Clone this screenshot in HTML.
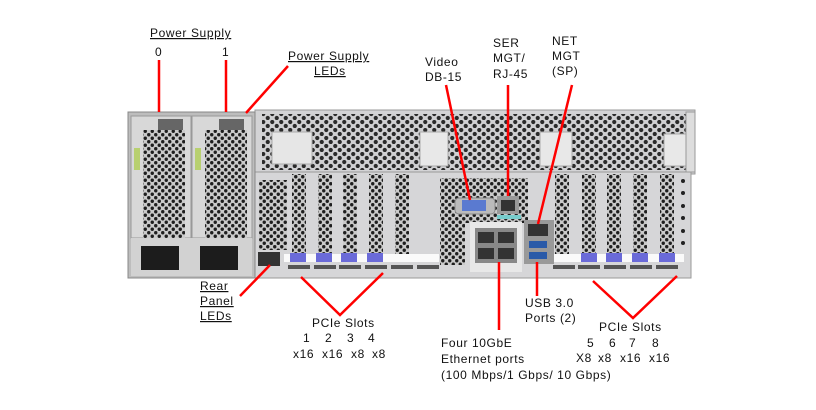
<!DOCTYPE html>
<html><head><meta charset="utf-8"><style>
html,body{margin:0;padding:0;background:#fff;}
svg{display:block}
text{font-family:"Liberation Sans",sans-serif;font-size:12px;fill:#111;letter-spacing:0.6px;}
</style></head><body>
<svg width="816" height="410" viewBox="0 0 816 410" xmlns="http://www.w3.org/2000/svg">
<defs>
<pattern id="h" width="9" height="8" patternUnits="userSpaceOnUse">
<rect width="9" height="8" fill="#d0d0d2"/>
<circle cx="2.25" cy="2" r="2.1" fill="#2a2a2a"/>
<circle cx="6.75" cy="6" r="2.1" fill="#2a2a2a"/>
</pattern>
<pattern id="h2" width="7" height="7" patternUnits="userSpaceOnUse">
<rect width="7" height="7" fill="#cacaca"/>
<circle cx="1.75" cy="1.75" r="1.7" fill="#1e1e1e"/>
<circle cx="5.25" cy="5.25" r="1.7" fill="#1e1e1e"/>
</pattern>
</defs>

<!-- chassis -->
<rect x="255" y="110" width="440" height="64" fill="#d3d3d5" stroke="#999" />
<rect x="262" y="114" width="424" height="56" fill="url(#h)"/>
<rect x="255" y="172" width="436" height="106" fill="#d6d6d8" stroke="#999"/>
<!-- handle recesses -->
<rect x="272" y="132" width="40" height="32" fill="#e6e6e6" stroke="#aaa"/>
<rect x="420" y="132" width="28" height="34" fill="#e8e8e8" stroke="#aaa"/>
<rect x="540" y="132" width="32" height="34" fill="#e8e8e8" stroke="#aaa"/>
<rect x="664" y="134" width="22" height="32" fill="#e8e8e8" stroke="#aaa"/>
<rect x="686" y="112" width="9" height="60" fill="#ddd" stroke="#999"/>

<!-- lower left vent -->
<rect x="259" y="180" width="28" height="70" fill="url(#h2)"/>
<!-- middle vent -->
<rect x="440" y="178" width="88" height="45" fill="url(#h2)"/>
<rect x="440" y="220" width="25" height="45" fill="url(#h2)"/>
<!-- pcie strips -->
<g fill="url(#h2)">
<rect x="292" y="174" width="14" height="80"/>
<rect x="318" y="174" width="14" height="80"/>
<rect x="343" y="174" width="14" height="80"/>
<rect x="369" y="174" width="14" height="80"/>
<rect x="395" y="174" width="14" height="80"/>
<rect x="555" y="174" width="14" height="80"/>
<rect x="582" y="174" width="14" height="80"/>
<rect x="607" y="174" width="14" height="80"/>
<rect x="633" y="174" width="14" height="80"/>
<rect x="660" y="174" width="14" height="80"/>
</g>
<g fill="#222"><circle cx="683" cy="181" r="2"/><circle cx="683" cy="193" r="2"/><circle cx="683" cy="206" r="2"/><circle cx="683" cy="218" r="2"/><circle cx="683" cy="231" r="2"/><circle cx="683" cy="243" r="2"/></g>
<rect x="284" y="254" width="155" height="8" fill="#fafafa"/>
<rect x="548" y="254" width="136" height="8" fill="#fafafa"/>
<g fill="#6a6ad8">
<rect x="290" y="253" width="16" height="9"/><rect x="316" y="253" width="16" height="9"/><rect x="341" y="253" width="16" height="9"/><rect x="367" y="253" width="16" height="9"/>
<rect x="581" y="253" width="16" height="9"/><rect x="606" y="253" width="16" height="9"/><rect x="632" y="253" width="16" height="9"/><rect x="659" y="253" width="16" height="9"/>
</g>
<g fill="#555">
<rect x="288" y="265" width="22" height="4"/><rect x="314" y="265" width="22" height="4"/><rect x="339" y="265" width="22" height="4"/><rect x="365" y="265" width="22" height="4"/><rect x="391" y="265" width="22" height="4"/><rect x="417" y="265" width="22" height="4"/>
<rect x="553" y="265" width="22" height="4"/><rect x="578" y="265" width="22" height="4"/><rect x="604" y="265" width="22" height="4"/><rect x="630" y="265" width="22" height="4"/><rect x="656" y="265" width="22" height="4"/>
</g>
<rect x="258" y="252" width="22" height="14" fill="#333"/>
<!-- io -->
<rect x="455" y="198" width="40" height="16" rx="4" fill="#bbb" stroke="#888"/>
<rect x="462" y="200" width="24" height="11" fill="#5a7ad0"/>
<rect x="497" y="196" width="22" height="18" fill="#999"/>
<rect x="501" y="200" width="14" height="11" fill="#333"/>
<rect x="497" y="215" width="24" height="4" fill="#7cc"/>
<rect x="470" y="222" width="52" height="50" fill="#e8e8e8"/>
<rect x="475" y="228" width="42" height="35" fill="#888"/>
<rect x="478" y="232" width="16" height="11" fill="#333"/><rect x="498" y="232" width="16" height="11" fill="#333"/>
<rect x="478" y="248" width="16" height="11" fill="#333"/><rect x="498" y="248" width="16" height="11" fill="#333"/>
<rect x="524" y="220" width="30" height="44" fill="#999"/>
<rect x="528" y="224" width="20" height="12" fill="#333"/>
<rect x="529" y="241" width="18" height="7" fill="#2a5aa8"/>
<rect x="529" y="252" width="18" height="7" fill="#2a5aa8"/>

<!-- PSUs -->
<rect x="128" y="112" width="127" height="166" fill="#bdbdbd" stroke="#888"/>
<rect x="131" y="116" width="60" height="122" fill="#d8d8d8" stroke="#999"/>
<rect x="192" y="116" width="60" height="122" fill="#d8d8d8" stroke="#999"/>
<rect x="143" y="130" width="42" height="108" fill="url(#h2)"/>
<rect x="205" y="130" width="42" height="108" fill="url(#h2)"/>
<rect x="158" y="119" width="25" height="11" fill="#666"/>
<rect x="219" y="119" width="25" height="11" fill="#666"/>
<rect x="134" y="148" width="6" height="22" fill="#b8d070"/>
<rect x="195" y="148" width="6" height="22" fill="#b8d070"/>
<rect x="131" y="238" width="121" height="38" fill="#d2d2d2"/>
<rect x="141" y="246" width="38" height="24" fill="#1c1c1c"/>
<rect x="200" y="246" width="38" height="24" fill="#1c1c1c"/>

<!-- red lines -->
<g stroke="#f00" stroke-width="2.5" fill="none">
<line x1="159" y1="60" x2="159" y2="112"/>
<line x1="226" y1="60" x2="226" y2="112"/>
<line x1="288" y1="66" x2="246" y2="113"/>
<line x1="446" y1="85" x2="470" y2="200"/>
<line x1="508" y1="85" x2="508" y2="196"/>
<line x1="572" y1="85" x2="538" y2="224"/>
<line x1="499" y1="262" x2="499" y2="330"/>
<line x1="537" y1="262" x2="537" y2="296"/>
<line x1="270" y1="265" x2="240" y2="296"/>
<polyline points="301,277 340,315 383,273"/>
<polyline points="593,281 633,318 677,276"/>
</g>

<!-- labels -->
<text x="150" y="37" text-decoration="underline">Power Supply</text>
<text x="155" y="56">0</text>
<text x="222" y="56">1</text>
<text x="288" y="60" text-decoration="underline">Power Supply</text>
<text x="314" y="75" text-decoration="underline">LEDs</text>
<text x="425" y="66">Video</text>
<text x="425" y="81">DB-15</text>
<text x="493" y="47">SER</text>
<text x="493" y="62">MGT/</text>
<text x="493" y="78">RJ-45</text>
<text x="552" y="45">NET</text>
<text x="552" y="60">MGT</text>
<text x="552" y="75">(SP)</text>
<text x="200" y="290" text-decoration="underline">Rear</text>
<text x="200" y="305" text-decoration="underline">Panel</text>
<text x="200" y="320" text-decoration="underline">LEDs</text>
<text x="312" y="327">PCIe Slots</text>
<text x="303" y="342">1</text><text x="325" y="342">2</text><text x="347" y="342">3</text><text x="368" y="342">4</text>
<text x="293" y="358">x16</text><text x="322" y="358">x16</text><text x="351" y="358">x8</text><text x="372" y="358">x8</text>
<text x="441" y="347">Four 10GbE</text>
<text x="441" y="363">Ethernet ports</text>
<text x="441" y="379">(100 Mbps/1 Gbps/ 10 Gbps)</text>
<text x="525" y="307">USB 3.0</text>
<text x="525" y="322">Ports (2)</text>
<text x="599" y="331">PCIe Slots</text>
<text x="587" y="347">5</text><text x="609" y="347">6</text><text x="629" y="347">7</text><text x="652" y="347">8</text>
<text x="576" y="362">X8</text><text x="598" y="362">x8</text><text x="620" y="362">x16</text><text x="649" y="362">x16</text>
</svg>
</body></html>
